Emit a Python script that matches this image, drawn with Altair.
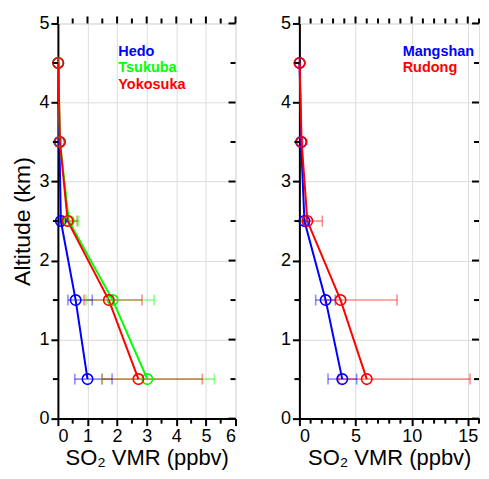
import altair as alt
import pandas as pd

# ---------------- data ----------------
altitudes = [0.5, 1.5, 2.5, 3.5, 4.5]

left_sites = ["Hedo", "Tsukuba", "Yokosuka"]
left_colors = ["#0000ff", "#00ff00", "#ff0000"]
hedo = [1.00, 0.60, 0.10, 0.05, 0.01]
hedo_lo = [0.57, 0.34, 0.05, 0.03, 0.01]
hedo_hi = [1.83, 1.16, 0.18, 0.08, 0.01]
tsukuba = [3.02, 1.85, 0.37, 0.07, 0.01]
tsukuba_lo = [1.50, 0.95, 0.15, 0.05, 0.01]
tsukuba_hi = [5.29, 3.25, 0.70, 0.10, 0.01]
yokosuka = [2.72, 1.72, 0.33, 0.07, 0.01]
yokosuka_lo = [1.49, 0.88, 0.15, 0.05, 0.01]
yokosuka_hi = [4.88, 2.84, 0.65, 0.10, 0.01]

right_sites = ["Mangshan", "Rudong"]
right_colors = ["#0000ff", "#ff0000"]
mangshan = [3.82, 2.34, 0.45, 0.15, 0.02]
mangshan_lo = [2.55, 1.45, 0.30, 0.10, 0.02]
mangshan_hi = [5.10, 3.20, 0.60, 0.20, 0.02]
rudong = [6.00, 3.67, 0.71, 0.20, 0.02]
rudong_lo = [3.50, 2.30, 0.40, 0.12, 0.02]
rudong_hi = [15.20, 8.70, 2.04, 0.30, 0.02]

left_x_major = [0, 1, 2, 3, 4, 5, 6]
left_x_minor = [0.5, 1.5, 2.5, 3.5, 4.5, 5.5]
right_x_major = [0, 5, 10, 15]
right_x_minor = [1, 2, 3, 4, 6, 7, 8, 9, 11, 12, 13, 14, 16]
y_major = [0, 1, 2, 3, 4, 5]
y_minor = [0.5, 1.5, 2.5, 3.5, 4.5]

FONT = "Liberation Sans"
H = 396
MAJ = 7
MIN = 5


def make_df(sites, vals, los, his):
    rows = []
    for s, v, lo, hi in zip(sites, vals, los, his):
        for a, vv, l, h in zip(altitudes, v, lo, hi):
            rows.append({"site": s, "alt": a, "v": vv, "lo": l, "hi": h})
    return pd.DataFrame(rows)


def tick_rules(values, xs, ys, side, length, width):
    df = pd.DataFrame({"tv": values})
    ch = alt.Chart(df).mark_rule(color="black", strokeWidth=2)
    if side == "top":
        return ch.encode(x=alt.X("tv:Q", scale=xs, axis=None),
                         y=alt.value(0), y2=alt.value(-length))
    if side == "bottom":
        return ch.encode(x=alt.X("tv:Q", scale=xs, axis=None),
                         y=alt.value(H), y2=alt.value(H + length))
    if side == "left":
        return ch.encode(y=alt.Y("tv:Q", scale=ys, axis=None),
                         x=alt.value(0), x2=alt.value(-length))
    return ch.encode(y=alt.Y("tv:Q", scale=ys, axis=None),
                     x=alt.value(width), x2=alt.value(width - length))


def panel(df, sites, colors, xdomain, xmaj, xmin, ytitle, legx, width):
    xs = alt.Scale(domain=xdomain, nice=False, zero=False)
    ys = alt.Scale(domain=[0, 5], nice=False, zero=False)
    expr = " : ".join(
        f"datum.label == '{s}' ? '{c}'" for s, c in zip(sites[:-1], colors[:-1])
    ) + f" : '{colors[-1]}'"
    cs = alt.Scale(domain=sites, range=colors)
    leg = alt.Legend(orient="none", legendX=legx, legendY=21, title=None,
                     symbolOpacity=0, symbolSize=1, symbolStrokeWidth=0,
                     labelOffset=0, labelFontSize=14.5, labelFont=FONT,
                     labelFontWeight="bold", rowPadding=1.6,
                     labelColor=alt.ExprRef(expr=expr), labelLimit=200)
    color = alt.Color("site:N", scale=cs, legend=leg)
    base = alt.Chart(df)

    xaxis = alt.Axis(values=xmaj, grid=True, gridColor="#dcdcdc", gridWidth=1,
                     tickSize=MAJ, tickWidth=2, tickColor="black",
                     domainColor="black", domainWidth=2,
                     labelFontSize=18, labelFont=FONT, labelColor="black",
                     labelPadding=2, title="SO₂ VMR (ppbv)", titleFontSize=22,
                     titleFont=FONT, titleFontWeight="normal",
                     titleColor="black", titlePadding=2)
    ykw = dict(values=y_major, grid=True, gridColor="#dcdcdc", gridWidth=1,
               tickSize=MAJ, tickWidth=2, tickColor="black",
               domainColor="black", domainWidth=2,
               labelFontSize=18, labelFont=FONT, labelColor="black",
               labelPadding=2)
    if ytitle:
        ykw.update(title=ytitle, titleFontSize=23, titleFont=FONT,
                   titleFontWeight="normal", titleColor="black",
                   titlePadding=4)
    else:
        ykw.update(title=None)
    yaxis = alt.Axis(**ykw)

    def X(f):
        return alt.X(f, scale=xs, axis=xaxis)

    def Y(f):
        return alt.Y(f, scale=ys, axis=yaxis)

    rules = base.mark_rule(strokeWidth=1.6, opacity=0.45).encode(
        x=X("lo:Q"), x2="hi:Q", y=Y("alt:Q"), color=color,
    )
    caps = base.transform_fold(["lo", "hi"], as_=["k", "e"]).mark_tick(
        orient="vertical", size=11, thickness=1.6, opacity=0.45
    ).encode(x=X("e:Q"), y=Y("alt:Q"), color=color)
    lines = base.mark_line(strokeWidth=2).encode(
        x=X("v:Q"), y=Y("alt:Q"), color=color, order=alt.Order("alt:Q"),
    )
    pts = base.mark_point(shape="circle", filled=False, size=110,
                          strokeWidth=1.6, opacity=1).encode(
        x=X("v:Q"), y=Y("alt:Q"), color=color,
    )
    main = alt.layer(rules, caps, lines, pts)
    ticks = alt.layer(
        tick_rules(xmaj, xs, ys, "top", MAJ, width),
        tick_rules(xmin, xs, ys, "top", MIN, width),
        tick_rules(xmin, xs, ys, "bottom", MIN, width),
        tick_rules(y_major, xs, ys, "right", MAJ, width),
        tick_rules(y_minor, xs, ys, "right", MIN, width),
        tick_rules(y_minor, xs, ys, "left", MIN, width),
    )
    return alt.layer(main, ticks).resolve_axis(
        x="independent", y="independent"
    ).properties(width=width, height=H)


left_df = make_df(left_sites, [hedo, tsukuba, yokosuka],
                  [hedo_lo, tsukuba_lo, yokosuka_lo],
                  [hedo_hi, tsukuba_hi, yokosuka_hi])
right_df = make_df(right_sites, [mangshan, rudong],
                   [mangshan_lo, rudong_lo], [mangshan_hi, rudong_hi])

left = panel(left_df, left_sites, left_colors, [0, 6], left_x_major,
             left_x_minor, "Altitude (km)", 46, 178)
right = panel(right_df, right_sites, right_colors, [0, 16], right_x_major,
              right_x_minor, None, 89, 180)

chart = alt.hconcat(left, right, spacing=42).resolve_scale(
    color="independent"
).properties(
    padding={"left": 3, "top": 5, "right": 0, "bottom": 0}
).configure_view(stroke="black", strokeWidth=2).configure(font=FONT)

chart.save("out.html", embed_options={"renderer": "svg", "actions": False})
